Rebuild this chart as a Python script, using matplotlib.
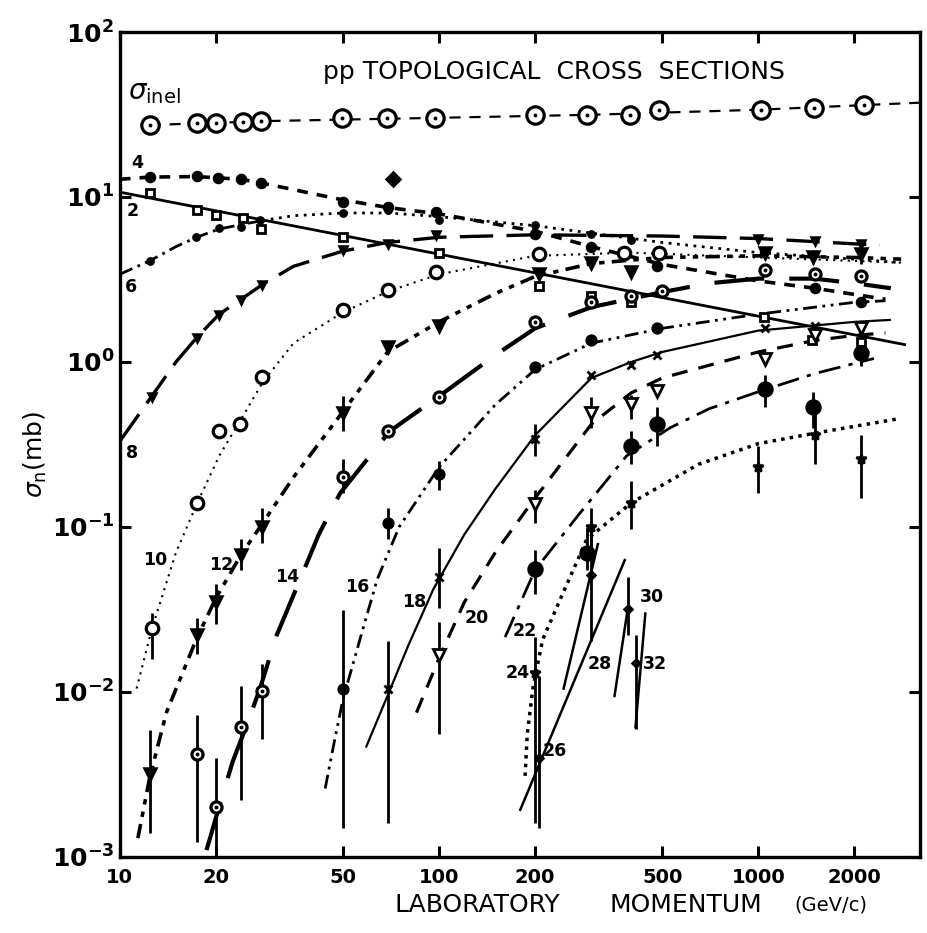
import matplotlib
matplotlib.use("Agg")
import matplotlib.pyplot as plt
from matplotlib.ticker import FixedLocator, FixedFormatter, NullLocator

plt.rcParams['font.family'] = ['DejaVu Sans']
plt.rcParams['mathtext.fontset'] = 'dejavusans'

# ---------------- data ----------------
# sigma_inel
p_inel = [12.4, 17.4, 20, 24.3, 27.7, 49.6, 68.7, 97, 200, 290, 397, 490, 1020, 1490, 2140]
s_inel = [27.3, 28.0, 28.2, 28.5, 28.8, 30.1, 30.0, 30.0, 31.4, 31.4, 31.5, 33.7, 33.7, 34.6, 36.0]
cp_inel = [12.4, 30, 100, 300, 1000, 3200]
cs_inel = [27.3, 28.9, 30.2, 31.5, 33.8, 37.3]

# n = 2
p2 = [12.4, 17.4, 20, 24.3, 27.7, 50, 100, 205, 300, 400, 1040, 1470, 2100]
s2 = [10.6, 8.3, 7.8, 7.5, 6.4, 5.75, 4.6, 2.9, 2.5, 2.3, 1.87, 1.35, 1.32]
cp2 = [10, 2900]
cs2 = [10.7, 1.27]

# n = 4
p4 = [12.4, 17.4, 20.3, 24, 27.7, 50, 69, 98, 200, 300, 480, 1500, 2100]
s4 = [13.2, 13.4, 13.0, 12.9, 12.2, 9.3, 8.7, 8.1, 6.0, 5.0, 3.8, 2.8, 2.3]
cp4 = [10, 12.4, 17.4, 24, 30, 40, 50, 70, 100, 200, 300, 500, 1000, 1500, 2500]
cs4 = [12.8, 13.2, 13.3, 12.8, 11.8, 10.5, 9.6, 8.6, 7.9, 6.2, 5.0, 3.9, 3.1, 2.8, 2.4]
p4_extra = [72]
s4_extra = [12.9]

# n = 6
p6 = [12.4, 17.3, 20.5, 24, 27.5, 50, 69, 100, 200, 300, 400]
s6 = [4.1, 5.7, 6.5, 6.6, 7.3, 8.0, 8.3, 7.3, 6.8, 6.0, 5.5]
cp6 = [10, 12.4, 15, 17.4, 20.5, 24, 28, 35, 50, 70, 100, 200, 500, 1000, 2000, 2800]
cs6 = [3.4, 4.1, 5.0, 5.7, 6.4, 6.8, 7.2, 7.7, 8.0, 8.0, 7.6, 6.7, 5.3, 4.6, 4.2, 4.0]

# n = 8
p8 = [12.6, 17.4, 20.5, 24, 28, 50, 69, 98, 1000, 1500, 2100]
s8 = [0.61, 1.40, 1.94, 2.38, 2.94, 4.8, 5.2, 5.9, 5.6, 5.4, 5.2]
cp8 = [10, 12.6, 15, 17.4, 20.5, 24, 28, 35, 50, 69, 100, 200, 500, 1000, 2400]
cs8 = [0.33, 0.62, 1.0, 1.4, 1.95, 2.4, 2.95, 3.8, 4.7, 5.3, 5.7, 5.9, 5.8, 5.6, 5.1]

# n = 10
p10 = [12.6, 17.5, 20.5, 23.8, 27.8, 50, 69, 98, 205, 380, 490]
s10 = [0.0245, 0.14, 0.38, 0.42, 0.81, 2.07, 2.73, 3.5, 4.5, 4.6, 4.6]
e10 = [(12.6, 0.0159, 0.0303)]
cp10 = [11.3, 12.6, 15, 17.5, 20.5, 24, 28, 35, 50, 70, 100, 200, 400, 1000, 2000, 2800]
cs10 = [0.0105, 0.024, 0.07, 0.14, 0.27, 0.45, 0.75, 1.3, 2.0, 2.7, 3.4, 4.4, 4.6, 4.3, 4.1, 4.0]

# n = 12
p12 = [12.4, 17.4, 20, 24, 28, 50, 69, 100, 205, 300, 400, 1050, 1480, 2100]
s12 = [0.0032, 0.022, 0.035, 0.068, 0.10, 0.49, 1.24, 1.65, 3.4, 4.0, 3.5, 4.6, 4.3, 4.5]
e12 = [(12.4, 0.0014, 0.0059), (17.4, 0.0169, 0.0282), (20, 0.026, 0.045),
       (24, 0.055, 0.085), (28, 0.08, 0.13), (50, 0.38, 0.62), (1480, 3.9, 4.8), (2100, 3.9, 5.0)]
cp12 = [11.4, 12.4, 14, 17.4, 20, 24, 28, 35, 50, 69, 100, 150, 200, 300, 500, 1000, 2000, 2800]
cs12 = [0.0013, 0.003, 0.0075, 0.021, 0.037, 0.068, 0.105, 0.2, 0.5, 1.15, 1.75, 2.6, 3.3,
        3.95, 4.3, 4.4, 4.3, 4.2]

# n = 14
p14 = [17.4, 20, 24, 28, 50, 69, 100, 200, 300, 400, 500, 1050, 1500, 2100]
s14 = [0.0042, 0.0020, 0.0061, 0.0101, 0.2, 0.38, 0.61, 1.75, 2.3, 2.5, 2.7, 3.6, 3.4, 3.3]
e14 = [(17.4, 0.00123, 0.0073), (20, 0.0011, 0.004), (24, 0.0022, 0.0108), (28, 0.0052, 0.0148),
       (50, 0.16, 0.26)]
cp14 = [18.7, 20.3, 22.6, 25, 27.5, 31, 36.7, 42, 49, 70, 100, 150, 200, 300, 500, 700, 1000,
        1500, 2000, 2600]
cs14 = [0.0011, 0.0019, 0.0038, 0.0063, 0.0105, 0.022, 0.048, 0.09, 0.16, 0.38, 0.62, 1.1, 1.6,
        2.15, 2.65, 3.0, 3.2, 3.2, 3.0, 2.8]

# n = 16
p16 = [50, 69, 100, 200, 300, 480]
s16 = [0.0104, 0.105, 0.21, 0.93, 1.36, 1.6]
e16 = [(50, 0.0015, 0.0314), (69, 0.085, 0.13), (100, 0.168, 0.25)]
cp16 = [44, 47, 50, 57, 64, 75, 100, 150, 200, 300, 500, 1000, 2000, 2500]
cs16 = [0.0026, 0.005, 0.009, 0.022, 0.048, 0.1, 0.23, 0.55, 0.9, 1.3, 1.6, 1.95, 2.3, 2.35]

# n = 18
p18 = [69, 100, 200, 300, 400, 480, 1050, 1500]
s18 = [0.0104, 0.05, 0.34, 0.83, 0.96, 1.11, 1.6, 1.66]
e18 = [(69, 0.0016, 0.0205), (100, 0.0324, 0.0745), (200, 0.27, 0.42)]
cp18 = [59, 69, 80, 96, 120, 150, 200, 300, 400, 500, 1000, 2000, 2600]
cs18 = [0.0046, 0.0095, 0.019, 0.042, 0.09, 0.17, 0.36, 0.8, 1.0, 1.15, 1.55, 1.75, 1.8]

# n = 20
p20 = [100, 200, 300, 400, 480, 1050, 1500, 2100]
s20 = [0.0167, 0.137, 0.49, 0.56, 0.67, 1.04, 1.45, 1.6]
e20 = [(100, 0.0056, 0.0265), (200, 0.105, 0.168), (300, 0.40, 0.61), (400, 0.45, 0.63)]
cp20 = [85, 100, 120, 150, 200, 300, 400, 500, 1000, 1500, 2000, 2500]
cs20 = [0.0075, 0.016, 0.035, 0.07, 0.15, 0.42, 0.65, 0.8, 1.15, 1.35, 1.45, 1.5]

# n = 22
p22 = [200, 290, 400, 480, 1050, 1480, 2100]
s22 = [0.056, 0.07, 0.31, 0.42, 0.69, 0.53, 1.14]
e22 = [(200, 0.039, 0.073), (290, 0.055, 0.1), (400, 0.24, 0.38), (480, 0.31, 0.53),
       (1050, 0.53, 0.83), (1480, 0.40, 0.66), (2100, 0.95, 1.35)]
cp22 = [161, 200, 275, 387, 530, 700, 1000, 1500, 2300]
cs22 = [0.0215, 0.055, 0.12, 0.27, 0.40, 0.52, 0.66, 0.85, 1.05]

# n = 24
p24 = [200, 300, 400, 1000, 1500, 2100]
s24 = [0.013, 0.1, 0.14, 0.23, 0.36, 0.26]
e24 = [(200, 0.0016, 0.0216), (300, 0.064, 0.13), (400, 0.097, 0.19), (1000, 0.16, 0.31),
       (1500, 0.24, 0.49), (2100, 0.15, 0.36)]
cp24 = [186, 189, 197, 211, 239, 290, 400, 650, 1000, 1500, 2700]
cs24 = [0.0031, 0.0056, 0.0107, 0.0207, 0.036, 0.084, 0.14, 0.24, 0.32, 0.37, 0.45]

# n = 26 .. 32
p26 = [205]; s26 = [0.004]; e26 = [(205, 0.0015, 0.0125)]
cp26 = [179, 383]; cs26 = [0.0019, 0.064]
p28 = [300]; s28 = [0.051]; e28 = [(300, 0.0203, 0.104)]
cp28 = [245, 315]; cs28 = [0.0103, 0.080]
p30 = [390]; s30 = [0.032]; e30 = [(390, 0.022, 0.05)]
cp30 = [354, 390]; cs30 = [0.0093, 0.032]
p32 = [415]; s32 = [0.015]; e32 = [(415, 0.006, 0.022)]
cp32 = [412, 443]; cs32 = [0.006, 0.0304]

# curve labels (text, p, sigma)
lab_text = ['4', '2', '6', '8', '10', '12', '14', '16', '18', '20', '22', '24', '26', '28', '30', '32']
lab_p = [10.9, 10.5, 10.4, 10.5, 11.8, 19.1, 30.6, 50.8, 76.5, 120, 170, 162, 211, 292, 425, 435]
lab_s = [16.1, 8.2, 2.85, 0.28, 0.063, 0.0585, 0.050, 0.043, 0.035, 0.028, 0.0235, 0.0131,
         0.0044, 0.0147, 0.0377, 0.0147]

x_ticks = [10, 20, 50, 100, 200, 500, 1000, 2000]
x_ticklabels = ['10', '20', '50', '100', '200', '500', '1000', '2000']
y_ticks = [1e-3, 1e-2, 1e-1, 1e0, 1e1, 1e2]
y_ticklabels = [r'$\mathbf{10^{-3}}$', r'$\mathbf{10^{-2}}$', r'$\mathbf{10^{-1}}$',
                r'$\mathbf{10^{0}}$', r'$\mathbf{10^{1}}$', r'$\mathbf{10^{2}}$']

# ---------------- figure ----------------
fig = plt.figure(figsize=(9.28, 9.33), dpi=100)
ax = fig.add_axes([0.129, 0.0815, 0.862, 0.8842])
ax.set_xscale('log')
ax.set_yscale('log')
ax.set_xlim(10, 3200)
ax.set_ylim(1e-3, 1e2)

K = 'black'

def curve(px, py, ls, lw):
    ax.plot(px, py, color=K, ls=ls, lw=lw, zorder=2, solid_capstyle='butt', dash_capstyle='butt')

def marks(px, py, marker, ms, filled=True, mew=1.8, dot=False):
    ax.plot(px, py, ls='none', marker=marker, ms=ms, mec=K,
            mfc=K if filled else 'white', mew=mew, zorder=4)
    if dot:
        ax.plot(px, py, ls='none', marker='o', ms=1.8, mec=K, mfc=K, zorder=5)

def errs(elist, lw=2.0):
    for (pp, lo, hi) in elist:
        ax.vlines(pp, lo, hi, color=K, lw=lw, zorder=3)

# sigma_inel
curve(cp_inel, cs_inel, (0, (5, 4)), 1.6)
marks(p_inel, s_inel, 'o', 12.5, filled=False, mew=2.3, dot=True)

# n=2
curve(cp2, cs2, '-', 2.0)
marks(p2, s2, 's', 6, filled=False, mew=2.0)
# n=4
curve(cp4, cs4, (0, (3, 2.5)), 2.6)
marks(p4, s4, 'o', 6.5)
marks(p4_extra, s4_extra, 'D', 7)
# n=6
curve(cp6[:7], cs6[:7], (0, (5, 2, 1, 2)), 2.0)
curve(cp6[6:], cs6[6:], (0, (1, 2)), 2.0)
marks(p6, s6, 'o', 4.5)
# n=8
curve(cp8, cs8, (0, (10, 4)), 2.4)
marks(p8, s8, 'v', 6)
# n=10
curve(cp10, cs10, (0, (1, 2.5)), 1.5)
errs(e10)
marks(p10, s10, 'o', 9, filled=False, mew=2.3)
# n=12
curve(cp12, cs12, (0, (4, 2, 1.5, 2, 1.5, 2)), 2.6)
errs(e12)
marks(p12, s12, 'v', 9)
# n=14
curve(cp14, cs14, (0, (12, 6)), 3.0)
errs(e14)
marks(p14, s14, 'o', 8, filled=False, mew=2.3, dot=True)
# n=16
curve(cp16, cs16, (0, (5, 2, 1, 2, 1, 2)), 2.0)
errs(e16)
marks(p16, s16, 'o', 7)
# n=18
curve(cp18, cs18, '-', 1.6)
errs(e18)
marks(p18, s18, 'x', 6, mew=2.0)
# n=20
curve(cp20, cs20, (0, (5, 3.5)), 2.3)
errs(e20)
marks(p20, s20, 'v', 9, filled=False, mew=2.0)
# n=22
curve(cp22, cs22, (0, (8, 3, 1.5, 3)), 2.0)
errs(e22)
marks(p22, s22, 'o', 10)
# n=24
curve(cp24, cs24, (0, (1, 1.5)), 2.5)
errs(e24)
marks(p24, s24, '*', 7)
# n=26..32
for cpx, csx, ppx, psx, ex in [(cp26, cs26, p26, s26, e26), (cp28, cs28, p28, s28, e28),
                               (cp30, cs30, p30, s30, e30), (cp32, cs32, p32, s32, e32)]:
    curve(cpx, csx, '-', 1.8)
    errs(ex)
    marks(ppx, psx, 'D', 4)

# labels on curves
for t, lp, ls_ in zip(lab_text, lab_p, lab_s):
    ax.text(lp, ls_, t, ha='left', va='center', fontsize=12.5, fontweight='bold', zorder=6)

ax.text(10.6, 43.3, r'$\sigma_{\mathsf{inel}}$', ha='left', va='center', fontsize=20, zorder=6)
ax.text(0.254, 0.951, 'pp TOPOLOGICAL  CROSS  SECTIONS', transform=ax.transAxes,
        ha='left', va='center', fontsize=18)

# axes styling
ax.xaxis.set_major_locator(FixedLocator(x_ticks))
ax.xaxis.set_major_formatter(FixedFormatter(x_ticklabels))
ax.xaxis.set_minor_locator(NullLocator())
ax.yaxis.set_major_locator(FixedLocator(y_ticks))
ax.yaxis.set_major_formatter(FixedFormatter(y_ticklabels))
ax.yaxis.set_minor_locator(NullLocator())
ax.tick_params(which='major', direction='in', length=8, width=2.2, top=True, right=True)
ax.tick_params(axis='x', labelsize=14, pad=8)
ax.tick_params(axis='y', labelsize=18, pad=4)
for lab in ax.get_xticklabels():
    lab.set_fontweight('bold')
for sp in ax.spines.values():
    sp.set_linewidth(2.4)

# axis titles
fig.text(0.425, 0.030, 'LABORATORY', ha='left', va='center', fontsize=18)
fig.text(0.657, 0.030, 'MOMENTUM', ha='left', va='center', fontsize=18)
fig.text(0.856, 0.030, '(GeV/c)', ha='left', va='center', fontsize=14)
fig.text(0.038, 0.513, r'$\sigma_{\mathsf{n}}\mathsf{(mb)}$', rotation=90, ha='center', va='center',
         fontsize=18)

fig.savefig('out.png', dpi=100)
